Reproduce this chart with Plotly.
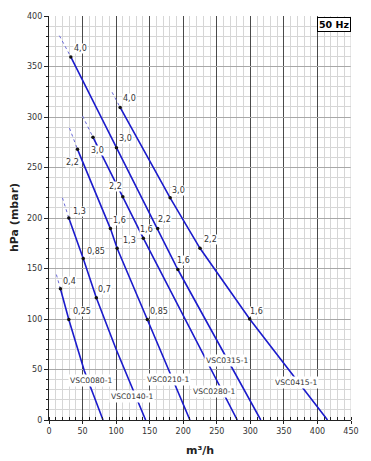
import plotly.graph_objects as go

# ---------------- data ----------------
models = ["VSC0080-1", "VSC0140-1", "VSC0210-1", "VSC0280-1", "VSC0315-1", "VSC0415-1"]

# start of the dotted (extrapolated) part of each curve: flow m³/h, pressure hPa
start_q = [11, 20, 30.5, 50, 15.5, 94]
start_p = [144, 220, 289, 301, 380.5, 324.5]

# rated points (motor power kW) on each curve
pt_q = [[17, 29.5], [29.5, 51, 70.5], [42.5, 91.5, 101.5, 146.5],
        [65.5, 110, 140.5], [32.5, 100.5, 162, 192], [106, 180.5, 225, 299]]
pt_p = [[130, 99.5], [200, 160, 121], [268, 189.5, 170, 99.5],
        [280, 221, 180], [359.5, 269.5, 189.5, 149], [309.5, 220, 170, 100]]
pt_kw = [["0,4", "0,25"], ["1,3", "0,85", "0,7"], ["2,2", "1,6", "1,3", "0,85"],
         ["3,0", "2,2", "1,6"], ["4,0", "3,0", "2,2", "1,6"], ["4,0", "3,0", "2,2", "1,6"]]

# remaining points of each curve down to zero pressure
tail_q = [[52.5, 80.5], [100, 144], [210], [280.5], [315.5], [415]]
tail_p = [[49, 0], [70, 0], [0], [0], [0], [0]]

x_ticks = [0, 50, 100, 150, 200, 250, 300, 350, 400, 450]
y_ticks = [0, 50, 100, 150, 200, 250, 300, 350, 400]

# ---------------- styling ----------------
LINE_COLOR = "#1b1bcc"
DOT_COLOR = "#6a6ad8"
FONT = "DejaVu Sans"
TXT = "#333333"

# model label placement (data coords) and kW label pixel offsets
model_label_pos = [(63, 39), (124, 23), (178, 40), (246.5, 28.5), (264.5, 59), (367.5, 37.5)]
kw_offsets = [[(9, 7), (13, 8)],
              [(11, 7), (13, 7), (8, 8)],
              [(-5, -13), (9, 8), (12, 8), (12, 8)],
              [(5, -13), (-7, 10), (3, 9)],
              [(10, 8), (9, 9), (7, 9), (6, 9)],
              [(9, 9), (8, 7), (10, 9), (7, 8)]]

fig = go.Figure()
annotations = []

for i, m in enumerate(models):
    # dotted extrapolated part
    fig.add_trace(go.Scatter(
        x=[start_q[i], pt_q[i][0]], y=[start_p[i], pt_p[i][0]],
        mode="lines", line=dict(color=DOT_COLOR, width=1, dash="dot"),
        hoverinfo="skip", showlegend=False))
    # solid curve
    fig.add_trace(go.Scatter(
        x=pt_q[i] + tail_q[i], y=pt_p[i] + tail_p[i],
        mode="lines", line=dict(color=LINE_COLOR, width=1.6),
        name=m, showlegend=False))
    # rated points
    fig.add_trace(go.Scatter(
        x=pt_q[i], y=pt_p[i], mode="markers",
        marker=dict(color="#111111", size=3.5),
        hoverinfo="skip", showlegend=False))
    for j, kw in enumerate(pt_kw[i]):
        dx, dy = kw_offsets[i][j]
        annotations.append(dict(
            x=pt_q[i][j], y=pt_p[i][j], xref="x", yref="y", text=kw,
            showarrow=False, xshift=dx, yshift=dy,
            font=dict(family=FONT, size=8, color=TXT),
            bgcolor="white", borderpad=0))
    lx, ly = model_label_pos[i]
    annotations.append(dict(
        x=lx, y=ly, xref="x", yref="y", text=m, showarrow=False,
        font=dict(family=FONT, size=7.6, color=TXT),
        bgcolor="white", borderpad=1))

# axis titles and frequency box
annotations.append(dict(
    x=0, y=0.5, xref="paper", yref="paper", text="<b>hPa (mbar)</b>",
    textangle=-90, showarrow=False, xanchor="center", yanchor="middle",
    xshift=-35, font=dict(family=FONT, size=11, color="#222222")))
annotations.append(dict(
    x=0.5, y=0, xref="paper", yref="paper", text="<b>m³/h</b>",
    showarrow=False, xanchor="center", yanchor="middle",
    yshift=-30, font=dict(family=FONT, size=11, color="#222222")))
annotations.append(dict(
    x=1, y=1, xref="paper", yref="paper", text="<b>50 Hz</b>",
    showarrow=False, xanchor="right", yanchor="top", yshift=-1,
    font=dict(family=FONT, size=9.5, color="black"),
    bgcolor="white", bordercolor="black", borderwidth=1, borderpad=1))

fig.update_layout(
    width=371, height=461,
    margin=dict(l=49, r=16, t=14, b=41),
    paper_bgcolor="white", plot_bgcolor="white",
    annotations=annotations,
    shapes=[dict(type="line", xref="x", yref="paper", x0=450, x1=450, y0=0, y1=1,
                 line=dict(color="#cfcfcf", width=1), layer="above")],
)

fig.update_xaxes(
    range=[0, 450], tickvals=x_ticks, ticktext=[str(v) for v in x_ticks],
    showgrid=True, gridcolor="#4a4a4a", gridwidth=1, zeroline=False,
    showline=True, linecolor="#222222", linewidth=1.2,
    ticks="outside", ticklen=3, tickcolor="#222222",
    tickfont=dict(family=FONT, size=8, color=TXT),
    minor=dict(dtick=10, showgrid=True, gridcolor="#d6d6d6", gridwidth=1,
               ticks="inside", ticklen=3, tickcolor="#222222"),
    fixedrange=True)
fig.update_yaxes(
    range=[0, 400], tickvals=y_ticks, ticktext=[str(v) for v in y_ticks],
    showgrid=True, gridcolor="#a8a8a8", gridwidth=1, zeroline=False,
    showline=True, linecolor="#222222", linewidth=1.2,
    ticks="outside", ticklen=4, tickcolor="#222222",
    tickfont=dict(family=FONT, size=8, color=TXT),
    minor=dict(dtick=10, showgrid=True, gridcolor="#d6d6d6", gridwidth=1,
               ticks="outside", ticklen=2, tickcolor="#222222"),
    fixedrange=True)

fig.write_html("out.html")
